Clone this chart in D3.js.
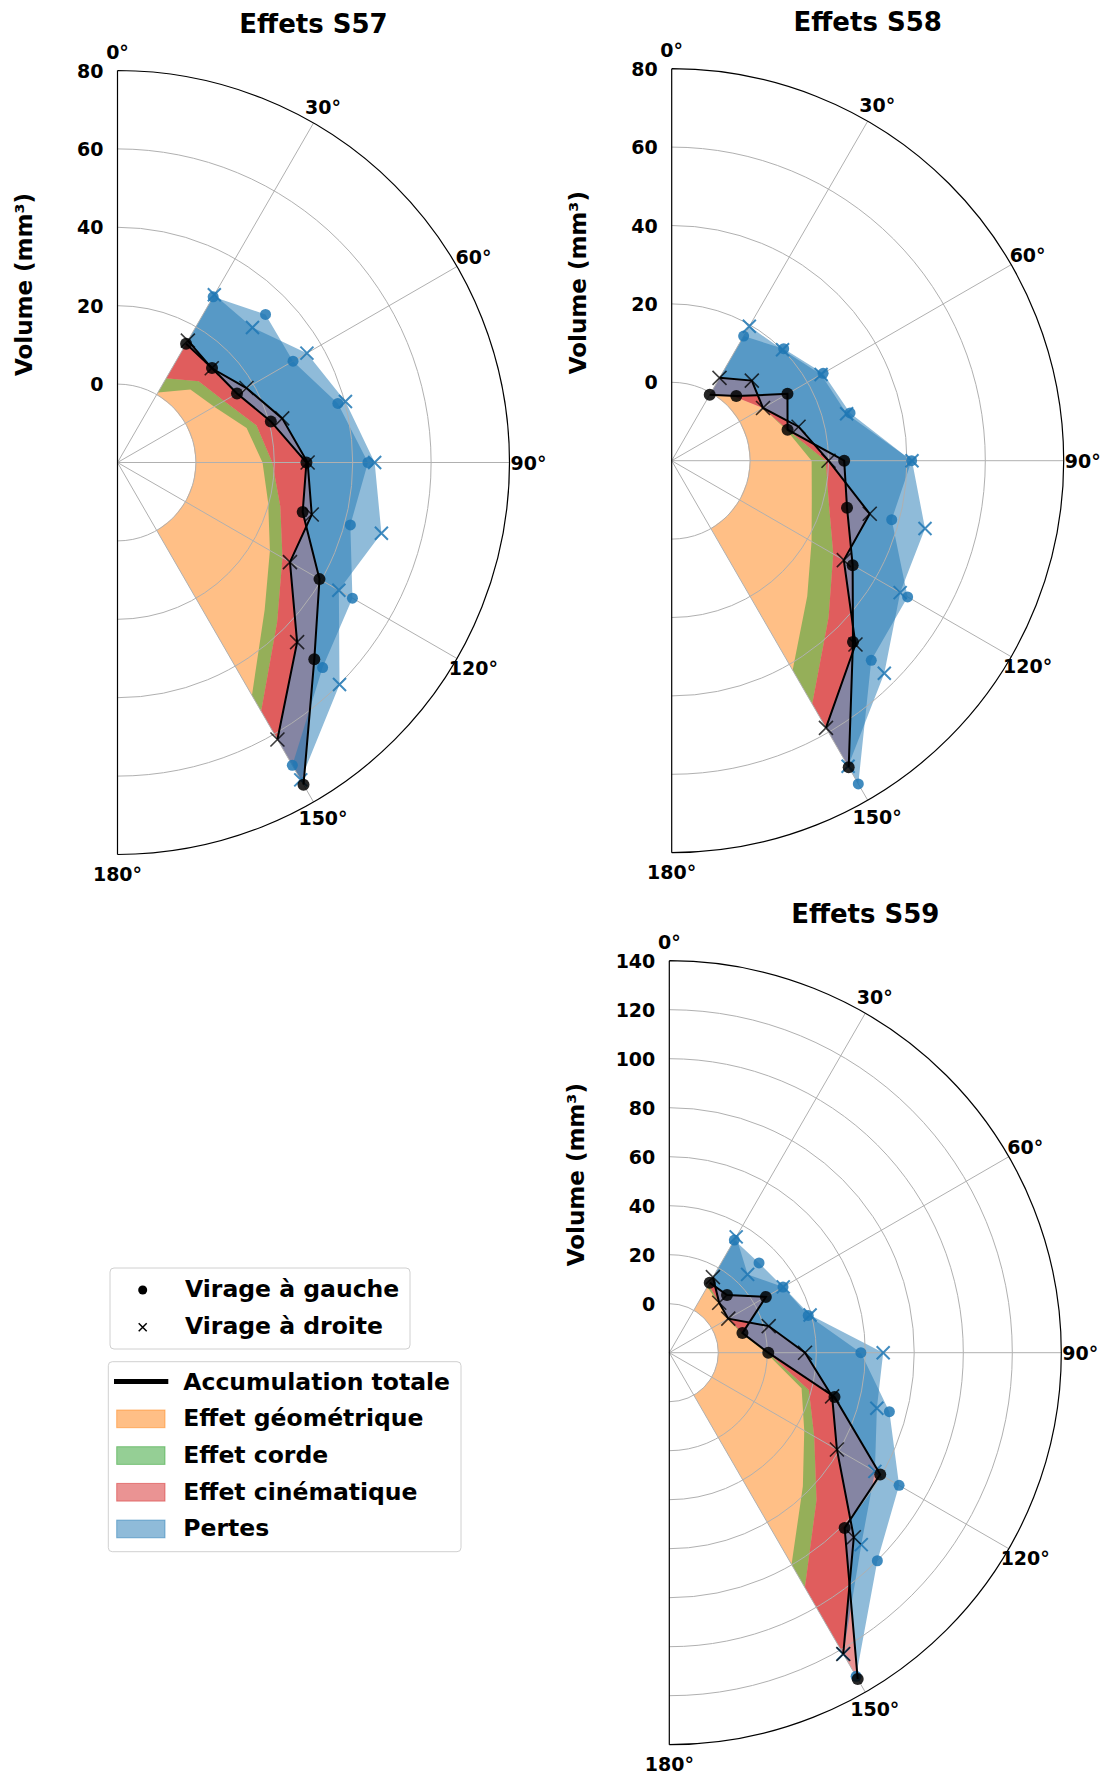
<!DOCTYPE html>
<html><head><meta charset="utf-8">
<script src="https://cdn.jsdelivr.net/npm/d3@7"></script>
<style>
body{margin:0;background:#fff}
text{font-family:"DejaVu Sans",sans-serif;font-weight:bold;fill:#000}
</style>
</head><body>
<svg id="chart" width="1105" height="1776"></svg>
<script>
// ---------- data ----------
const angles = [30, 45, 60, 75, 90, 105, 120, 135, 150];
const thetaTicks = [0, 30, 60, 90, 120, 150, 180];

// S57
const geo57    = [0.6, 6.3, 8.5, 14.1, 17.0, 19.8, 24.9, 33.1, 48.6];
const corde57  = [4.2, 3.0, 2.9, 2.6, 2.5, 3.2, 3.7, 4.5, 4.7];
const totG57   = [15.0, 14.1, 15.2, 20.5, 28.2, 28.9, 39.5, 51.0, 74.9];
const totD57   = [15.9, 14.0, 18.0, 23.5, 28.5, 31.3, 30.8, 44.8, 61.6];
const mesG57   = [28.8, 33.4, 31.7, 38.2, 43.9, 41.5, 49.2, 54.0, 69.2];
const mesD57   = [29.4, 28.7, 35.8, 40.2, 45.6, 49.7, 45.2, 60.1, 73.5];
const rTicks57 = [0, 20, 40, 60, 80];

// S58
const geo58    = [0.0, 3.0, 6.9, 10.3, 15.7, 17.0, 21.2, 28.9, 41.7];
const corde58  = [0.0, 0.0, 0.0, 0.3, 3.6, 4.5, 6.4, 7.7, 10.0];
const totG58   = [-0.6, 3.3, 14.1, 10.6, 24.0, 26.3, 33.3, 45.4, 70.3];
const totD58   = [4.4, 8.9, 6.9, 13.5, 20.0, 32.3, 30.7, 46.3, 58.7];
const mesG58   = [16.7, 20.4, 24.6, 27.1, 41.2, 38.1, 49.5, 52.0, 75.2];
const mesD58   = [19.6, 20.0, 24.0, 26.2, 41.3, 46.9, 47.3, 56.7, 70.0];
const rTicks58 = [0, 20, 40, 60, 80];

// S59
const geo59    = [11.0, 8.5, 7.5, 10.5, 19.5, 35.9, 43.6, 57.1, 79.8];
const corde59  = [1.0, 0.3, 0.3, 0.4, 0.8, 3.1, 4.7, 7.9, 10.9];
const totG59   = [13.0, 13.3, 25.5, 10.9, 20.4, 49.8, 79.4, 81.2, 133.8];
const totD59   = [15.6, 8.8, 7.8, 22.0, 35.4, 48.8, 59.0, 86.5, 122.0];
const mesG59   = [33.1, 31.8, 33.6, 38.7, 58.2, 73.0, 88.3, 100.1, 132.5];
const mesD59   = [34.6, 25.2, 33.7, 39.5, 67.3, 67.7, 76.9, 90.8, 122.0];
const rTicks59 = [0, 20, 40, 60, 80, 100, 120, 140];

const legendMarkers = ["Virage à gauche", "Virage à droite"];
const legendEffects = ["Accumulation totale", "Effet géométrique", "Effet corde", "Effet cinématique", "Pertes"];

// ---------- layout / style ----------
const C = {orange:"#ff7f0e", green:"#2ca02c", red:"#d62728", blue:"#1f77b4"};
const R = 392;
const panels = [
  {title:"Effets S57", cx:117.5, cy:462.5, rmin:-20, rmax:80,  ticks:rTicks57, geo:geo57, corde:corde57, totG:totG57, totD:totD57, mesG:mesG57, mesD:mesD57},
  {title:"Effets S58", cx:671.7, cy:460.7, rmin:-20, rmax:80,  ticks:rTicks58, geo:geo58, corde:corde58, totG:totG58, totD:totD58, mesG:mesG58, mesD:mesD58},
  {title:"Effets S59", cx:669.3, cy:1352.7, rmin:-20, rmax:140, ticks:rTicks59, geo:geo59, corde:corde59, totG:totG59, totD:totD59, mesG:mesG59, mesD:mesD59}
];

const svg = d3.select("#chart");
svg.append("rect").attr("width",1105).attr("height",1776).attr("fill","#fff");
const rad = a => a * Math.PI / 180;
const idx = d3.range(angles.length);

panels.forEach(p => {
  const r = d3.scaleLinear().domain([p.rmin, p.rmax]).range([0, R]);
  const g = svg.append("g").attr("transform", `translate(${p.cx},${p.cy})`);
  const gc = i => p.geo[i] + p.corde[i];
  const area = (inner, outer) => d3.areaRadial()
      .angle(i => rad(angles[i]))
      .innerRadius(i => r(inner(i)))
      .outerRadius(i => r(outer(i)));
  const fill = (inner, outer, col) => g.append("path").datum(idx)
      .attr("d", area(inner, outer)).attr("fill", col).attr("fill-opacity", 0.5);

  // fills
  fill(i => 0, gc, C.orange);
  fill(i => p.geo[i], gc, C.green);
  fill(gc, i => p.totG[i], C.red);
  fill(gc, i => p.totD[i], C.red);
  fill(i => p.totG[i], i => p.mesG[i], C.blue);
  fill(i => p.totD[i], i => p.mesD[i], C.blue);

  // grid
  p.ticks.filter(t => t < p.rmax).forEach(t => {
    const rr = r(t);
    g.append("path").attr("d", `M0,${-rr}A${rr},${rr} 0 0 1 0,${rr}`)
      .attr("fill","none").attr("stroke","#b0b0b0").attr("stroke-width",1);
  });
  thetaTicks.filter(a => a > 0 && a < 180).forEach(a => {
    g.append("line").attr("x1",0).attr("y1",0)
      .attr("x2", R*Math.sin(rad(a))).attr("y2", -R*Math.cos(rad(a)))
      .attr("stroke","#b0b0b0").attr("stroke-width",1);
  });

  const pt = (a, v) => [r(v)*Math.sin(rad(a)), -r(v)*Math.cos(rad(a))];
  const xPath = (x, y, s) => `M${x-s},${y-s}L${x+s},${y+s}M${x-s},${y+s}L${x+s},${y-s}`;

  // blue markers (measured)
  idx.forEach(i => {
    const [x, y] = pt(angles[i], p.mesG[i]);
    g.append("circle").attr("cx",x).attr("cy",y).attr("r",5.5).attr("fill",C.blue).attr("fill-opacity",0.85);
  });
  idx.forEach(i => {
    const [x, y] = pt(angles[i], p.mesD[i]);
    g.append("path").attr("d", xPath(x, y, 6.5)).attr("stroke",C.blue).attr("stroke-width",2).attr("stroke-opacity",0.85);
  });

  // total lines
  const line = vals => d3.lineRadial().angle(i => rad(angles[i])).radius(i => r(vals[i]));
  g.append("path").datum(idx).attr("d", line(p.totD)).attr("fill","none").attr("stroke","#000").attr("stroke-width",2);
  g.append("path").datum(idx).attr("d", line(p.totG)).attr("fill","none").attr("stroke","#000").attr("stroke-width",2);
  idx.forEach(i => {
    const [x, y] = pt(angles[i], p.totD[i]);
    g.append("path").attr("d", xPath(x, y, 7)).attr("stroke","#000").attr("stroke-width",1.6).attr("stroke-opacity",0.75);
  });
  idx.forEach(i => {
    const [x, y] = pt(angles[i], p.totG[i]);
    g.append("circle").attr("cx",x).attr("cy",y).attr("r",6).attr("fill","#000").attr("fill-opacity",0.85);
  });

  // spines
  g.append("path").attr("d", `M0,${-R}L0,${R}M0,${-R}A${R},${R} 0 0 1 0,${R}`)
    .attr("fill","none").attr("stroke","#000").attr("stroke-width",1.2);

  // radial tick labels
  p.ticks.forEach(t => {
    g.append("text").attr("x",-14).attr("y",-r(t)).attr("text-anchor","end")
      .attr("dominant-baseline","central").style("font-size","19px").text(t);
  });
  // angle labels
  thetaTicks.forEach(a => {
    g.append("text").attr("x",(R+19)*Math.sin(rad(a))).attr("y",-(R+19)*Math.cos(rad(a)))
      .attr("text-anchor","middle").attr("dominant-baseline","central")
      .style("font-size","19px").text(a + "°");
  });
  // title
  g.append("text").attr("x", R/2).attr("y", -438.5).attr("text-anchor","middle")
    .attr("dominant-baseline","central").style("font-size","26px").text(p.title);
  // y label
  g.append("text").attr("transform", `translate(-93.5,-178) rotate(-90)`).attr("text-anchor","middle")
    .attr("dominant-baseline","central").style("font-size","23px").text("Volume (mm³)");
});

// ---------- legends ----------
const L = svg.append("g");
L.append("rect").attr("x",110).attr("y",1268).attr("width",300).attr("height",81).attr("rx",4)
  .attr("fill","#fff").attr("stroke","#d0d0d0").attr("stroke-width",1);
L.append("circle").attr("cx",142.7).attr("cy",1290).attr("r",4.5).attr("fill","#000");
L.append("path").attr("d","M138.7,1323.3L146.7,1331.3M138.7,1331.3L146.7,1323.3").attr("stroke","#000").attr("stroke-width",1.5);
legendMarkers.forEach((t, i) => {
  L.append("text").attr("x",185).attr("y",1289 + i*37).attr("dominant-baseline","central")
    .style("font-size","23.5px").text(t);
});

L.append("rect").attr("x",108.3).attr("y",1361.7).attr("width",352.7).attr("height",190).attr("rx",4)
  .attr("fill","#fff").attr("stroke","#d0d0d0").attr("stroke-width",1);
L.append("line").attr("x1",114).attr("x2",168.3).attr("y1",1381.5).attr("y2",1381.5).attr("stroke","#000").attr("stroke-width",5);
const patchCols = [C.orange, C.green, C.red, C.blue];
patchCols.forEach((c, i) => {
  L.append("rect").attr("x",116.7).attr("y",1410 + i*36.7).attr("width",48.3).attr("height",17.7)
    .attr("fill",c).attr("fill-opacity",0.5).attr("stroke",c).attr("stroke-opacity",0.5).attr("stroke-width",1);
});
legendEffects.forEach((t, i) => {
  L.append("text").attr("x",183.3).attr("y",1381.5 + i*36.7).attr("dominant-baseline","central")
    .style("font-size","23.5px").text(t);
});
</script>
</body></html>
